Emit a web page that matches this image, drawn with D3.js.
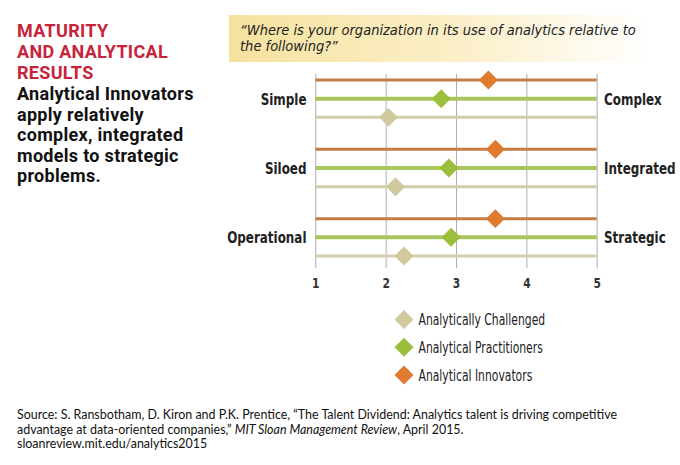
<!DOCTYPE html>
<html>
<head>
<meta charset="utf-8">
<script src="https://cdn.jsdelivr.net/npm/d3@7"></script>
<style>
  body { margin: 0; background: #fff; }
  .cond { font-family: "DejaVu Sans Condensed", "Liberation Sans Narrow", sans-serif; }
</style>
</head>
<body>
<div id="chart"></div>
<script>
// values
const dimensions = ["complexity", "integration", "strategy"];
const leftLabels = ["Simple", "Siloed", "Operational"];
const rightLabels = ["Complex", "Integrated", "Strategic"];
const seriesNames = ["Analytically Challenged", "Analytical Practitioners", "Analytical Innovators"];
const challenged = [2.04, 2.14, 2.26];
const practitioners = [2.79, 2.90, 2.93];
const innovators = [3.46, 3.56, 3.56];
const ticks = [1, 2, 3, 4, 5];

const titleRed = ["MATURITY", "AND ANALYTICAL", "RESULTS"];
const titleBlack = ["Analytical Innovators", "apply relatively", "complex, integrated", "models to strategic", "problems."];
const question = ["\u201CWhere is your organization in its use of analytics relative to", "the following?\u201D"];

const lineColor = {"Analytically Challenged": "#d3cdab", "Analytical Practitioners": "#a7c65e", "Analytical Innovators": "#c57d48"};
const markColor = {"Analytically Challenged": "#d0c99c", "Analytical Practitioners": "#9cbf3b", "Analytical Innovators": "#df7a2e"};
const lineWidth = {"Analytically Challenged": 3, "Analytical Practitioners": 4, "Analytical Innovators": 3};

let rows = [];
dimensions.forEach((d, i) => {
    rows.push({dim: d, series: seriesNames[2], value: innovators[i]});
    rows.push({dim: d, series: seriesNames[1], value: practitioners[i]});
    rows.push({dim: d, series: seriesNames[0], value: challenged[i]});
});

const W = 680, H = 465;
const svg = d3.select("#chart").append("svg")
    .attr("width", W).attr("height", H);

// squeeze a condensed face a bit more, the original uses a narrow type
function squeeze(sel, fx, fy, sx) {
    sel.attr("transform", (d, i) => "translate(" + fx(d, i) + "," + fy(d, i) + ") scale(" + sx + ",1)");
}

// header box with fading yellow
let defs = svg.append("defs");
let grad = defs.append("linearGradient").attr("id", "hdr");
grad.append("stop").attr("offset", "0").attr("stop-color", "#f6e29e");
grad.append("stop").attr("offset", "0.55").attr("stop-color", "#fbefc9");
grad.append("stop").attr("offset", "1").attr("stop-color", "#ffffff");
svg.append("rect").attr("x", 229).attr("y", 15).attr("width", 420).attr("height", 47)
    .attr("fill", "url(#hdr)");

svg.append("g").selectAll("text").data(question).join("text")
    .attr("class", "cond")
    .attr("x", 240).attr("y", (d, i) => 34.5 + i * 16.5)
    .attr("font-size", 14.5).attr("font-style", "italic").attr("fill", "#222")
    .text(d => d);

// left title
svg.append("g").selectAll("text").data(titleRed).join("text")
    .attr("x", 17).attr("y", (d, i) => 37.3 + i * 21)
    .attr("font-family", "Roboto, sans-serif").attr("font-weight", 700)
    .attr("font-size", 18).attr("letter-spacing", 0.3).attr("fill", "#c8233b")
    .text(d => d);
svg.append("g").selectAll("text").data(titleBlack).join("text")
    .attr("x", 17).attr("y", (d, i) => 100 + i * 20.5)
    .attr("font-family", "Roboto, sans-serif").attr("font-weight", 700)
    .attr("font-size", 18).attr("letter-spacing", 0.3).attr("fill", "#111")
    .text(d => d);

// scales
const x = d3.scaleLinear().domain([1, 5]).range([315.3, 596.7]);
const y = d3.scaleBand().domain(dimensions).range([64, 272]);
const inner = d3.scalePoint().domain([seriesNames[2], seriesNames[1], seriesNames[0]]).range([-18.7, 18.7]);
const yc = d => y(d) + y.bandwidth() / 2;

// grid
const xAxis = d3.axisBottom(x).tickValues(ticks).tickSize(194).tickFormat(d3.format("d"));
const gx = svg.append("g").attr("transform", "translate(0,74)").call(xAxis);
gx.select(".domain").remove();
gx.selectAll(".tick line").attr("stroke", "#9a9a9a").attr("stroke-width", 0.8);
gx.selectAll(".tick text").attr("class", "cond").attr("font-size", 14).attr("font-weight", "bold")
    .attr("fill", "#333").attr("dy", 0).attr("y", 0)
    .call(squeeze, () => 0, () => 214, 0.85);

// lines
svg.append("g").selectAll("line").data(rows).join("line")
    .attr("x1", x(1)).attr("x2", x(5))
    .attr("y1", d => yc(d.dim) + inner(d.series))
    .attr("y2", d => yc(d.dim) + inner(d.series))
    .attr("stroke", d => lineColor[d.series])
    .attr("stroke-width", d => lineWidth[d.series]);

// diamonds
const diamond = d3.symbol().type(d3.symbolSquare).size(180);
svg.append("g").selectAll("path").data(rows).join("path")
    .attr("d", diamond)
    .attr("transform", d => "translate(" + x(d.value) + "," + (yc(d.dim) + inner(d.series)) + ") rotate(45)")
    .attr("fill", d => markColor[d.series]);

// row labels
svg.append("g").selectAll("text").data(leftLabels).join("text")
    .attr("class", "cond")
    .attr("text-anchor", "end").attr("font-size", 16).attr("font-weight", "bold").attr("fill", "#222")
    .text(d => d)
    .call(squeeze, () => 306.5, (d, i) => yc(dimensions[i]) + 6, 0.83);
svg.append("g").selectAll("text").data(rightLabels).join("text")
    .attr("class", "cond")
    .attr("font-size", 16).attr("font-weight", "bold").attr("fill", "#222")
    .text(d => d)
    .call(squeeze, () => 604, (d, i) => yc(dimensions[i]) + 6, 0.83);

// legend
const legendY = d3.scalePoint().domain(seriesNames).range([319.5, 375]);
const lg = svg.append("g").selectAll("g").data(seriesNames).join("g")
    .attr("transform", d => "translate(404," + legendY(d) + ")");
lg.append("path").attr("d", diamond).attr("transform", "rotate(45)")
    .attr("fill", d => markColor[d]);
lg.append("text").attr("class", "cond")
    .attr("font-size", 15).attr("fill", "#222").text(d => d)
    .call(squeeze, () => 14.5, () => 5.5, 0.80);

// source
const src = svg.append("g").attr("font-family", "Lato, sans-serif").attr("font-size", 12.45).attr("fill", "#111");
src.append("text").attr("x", 17).attr("y", 419)
    .text("Source: S. Ransbotham, D. Kiron and P.K. Prentice, \u201CThe Talent Dividend: Analytics talent is driving competitive");
let l2 = src.append("text").attr("x", 17).attr("y", 433.5);
l2.append("tspan").text("advantage at data-oriented companies,\u201D ");
l2.append("tspan").attr("font-style", "italic").text("MIT Sloan Management Review");
l2.append("tspan").text(", April 2015.");
src.append("text").attr("x", 17).attr("y", 448).text("sloanreview.mit.edu/analytics2015");
</script>
</body>
</html>
